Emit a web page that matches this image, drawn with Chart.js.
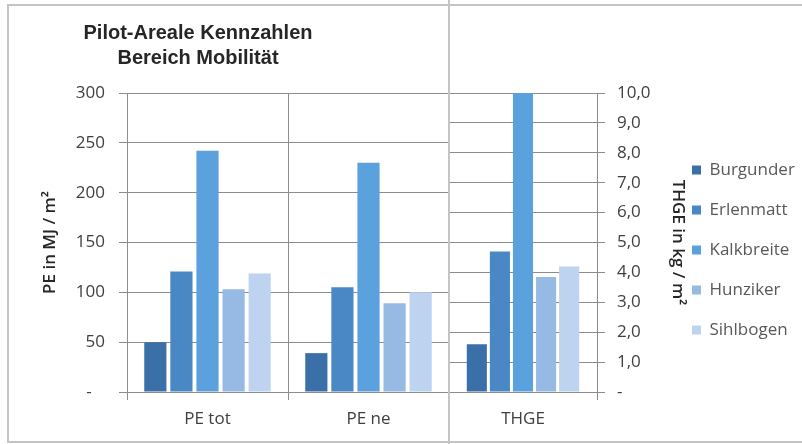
<!DOCTYPE html>
<html>
<head>
<meta charset="utf-8">
<script src="https://cdn.jsdelivr.net/npm/chart.js@4.4.1/dist/chart.umd.min.js"></script>
<style>
  body { margin: 0; background: #fff; overflow: hidden; }
  #wrap { position: relative; width: 802px; height: 444px; }
  canvas { position: absolute; top: 0; }
  .line { position: absolute; background: #c4c4c4; pointer-events: none; }
</style>
</head>
<body>
<div id="wrap">
  <canvas id="chart-pe" width="449" height="444" style="left:0"></canvas>
  <canvas id="chart-thge" width="353" height="444" style="left:449px"></canvas>
  <!-- Rahmen -->
  <div class="line" style="left:7px;top:4px;width:795px;height:2px"></div>
  <div class="line" style="left:7px;top:441px;width:795px;height:2px"></div>
  <div class="line" style="left:7px;top:4px;width:2px;height:439px"></div>
  <div class="line" style="left:448px;top:0;width:2px;height:444px"></div>
</div>
<script>
// Daten
const sites = ['Burgunder', 'Erlenmatt', 'Kalkbreite', 'Hunziker', 'Sihlbogen'];
const peCategories = ['PE tot', 'PE ne'];
const thgeCategories = ['THGE'];
const peTot = [50, 121, 242, 103, 119];
const peNe = [39, 105, 230, 89, 100];
const thge = [1.6, 4.7, 10.0, 3.85, 4.2];
const titleLines = ['Pilot-Areale Kennzahlen', 'Bereich Mobilität'];
const colors = ['#3b6fa7', '#4a87c5', '#5aa1dd', '#96bae4', '#bed3ef'];

const gridColor = '#8c8c8c';
const fontFamily = '"Open Sans", sans-serif';
const tickFont = { family: fontFamily, size: 17 };
const axisTitleFont = { family: fontFamily, size: 17, weight: '600' };

const titlePlugin = {
    id: 'titelText',
    afterDraw(chart) {
        const ctx = chart.ctx;
        ctx.save();
        ctx.font = 'bold 20px "Liberation Sans", Arial, sans-serif';
        ctx.fillStyle = '#262626';
        ctx.textAlign = 'center';
        ctx.textBaseline = 'middle';
        ctx.fillText(titleLines[0], 198, 33);
        ctx.fillText(titleLines[1], 198, 58);
        ctx.restore();
    }
};

// Legendenbreite vorab messen, damit die Zeichenfläche rechts bei x=597 endet
const legendPadding = 23;
const legendBox = 9;
const measureCtx = document.createElement('canvas').getContext('2d');
measureCtx.font = '17px ' + fontFamily;
const maxLabelWidth = Math.max(...sites.map(s => measureCtx.measureText(s).width));
const legendWidth = Math.ceil(legendPadding + legendBox + 17 / 2 + maxLabelWidth + 4);
const rightPad = Math.max(0, 353 - 148 - 72 - legendWidth);

// Linkes Diagramm: PE
new Chart(document.getElementById('chart-pe'), {
    type: 'bar',
    data: {
        labels: peCategories,
        datasets: sites.map((s, i) => ({
            label: s,
            data: [peTot[i], peNe[i]],
            backgroundColor: colors[i],
            barPercentage: 0.85,
            categoryPercentage: 0.81
        }))
    },
    options: {
        responsive: false,
        animation: false,
        layout: { padding: { top: 93, bottom: 0, left: 0, right: 0 } },
        plugins: { legend: { display: false }, tooltip: { enabled: false } },
        scales: {
            x: {
                grid: { color: gridColor, tickLength: 8 },
                border: { color: gridColor },
                ticks: { color: '#404040', font: tickFont, padding: 9 },
                afterFit: (scale) => { scale.height = 52; }
            },
            y: {
                min: 0,
                max: 300,
                grid: { color: gridColor, tickLength: 8 },
                border: { color: gridColor },
                ticks: {
                    stepSize: 50,
                    color: '#404040',
                    font: tickFont,
                    padding: 14,
                    callback: (v) => v === 0 ? '-   ' : v
                },
                title: {
                    display: true,
                    text: 'PE in MJ / m²',
                    color: '#262626',
                    font: axisTitleFont,
                    padding: { top: 40, bottom: 0 }
                },
                afterFit: (scale) => { scale.width = 127; }
            }
        }
    },
    plugins: [titlePlugin]
});

// Rechtes Diagramm: THGE
new Chart(document.getElementById('chart-thge'), {
    type: 'bar',
    data: {
        labels: thgeCategories,
        datasets: sites.map((s, i) => ({
            label: s,
            data: [thge[i]],
            backgroundColor: colors[i],
            barPercentage: 0.87,
            categoryPercentage: 0.78
        }))
    },
    options: {
        responsive: false,
        animation: false,
        layout: { padding: { top: 93, bottom: 0, left: 0, right: rightPad } },
        plugins: {
            tooltip: { enabled: false },
            legend: {
                position: 'right',
                fullSize: false,
                maxWidth: legendWidth,
                title: { display: true, text: '', font: { size: 12.5 }, padding: 0 },
                labels: {
                    boxWidth: legendBox,
                    boxHeight: legendBox,
                    padding: legendPadding,
                    color: '#595959',
                    font: tickFont
                }
            }
        },
        scales: {
            x: {
                grid: { color: gridColor, tickLength: 8 },
                border: { color: gridColor },
                ticks: { color: '#404040', font: tickFont, padding: 9 },
                afterFit: (scale) => { scale.height = 52; }
            },
            y: {
                position: 'right',
                min: 0,
                max: 10,
                grid: { color: gridColor, tickLength: 8 },
                border: { color: gridColor },
                ticks: {
                    stepSize: 1,
                    color: '#404040',
                    font: tickFont,
                    padding: 12,
                    callback: (v) => v === 0 ? '-' : v.toFixed(1).replace('.', ',')
                },
                title: {
                    display: true,
                    text: 'THGE in kg / m²',
                    color: '#262626',
                    font: axisTitleFont,
                    padding: { top: -19, bottom: 0 }
                },
                afterFit: (scale) => { scale.width = 72; }
            }
        }
    }
});
</script>
</body>
</html>
